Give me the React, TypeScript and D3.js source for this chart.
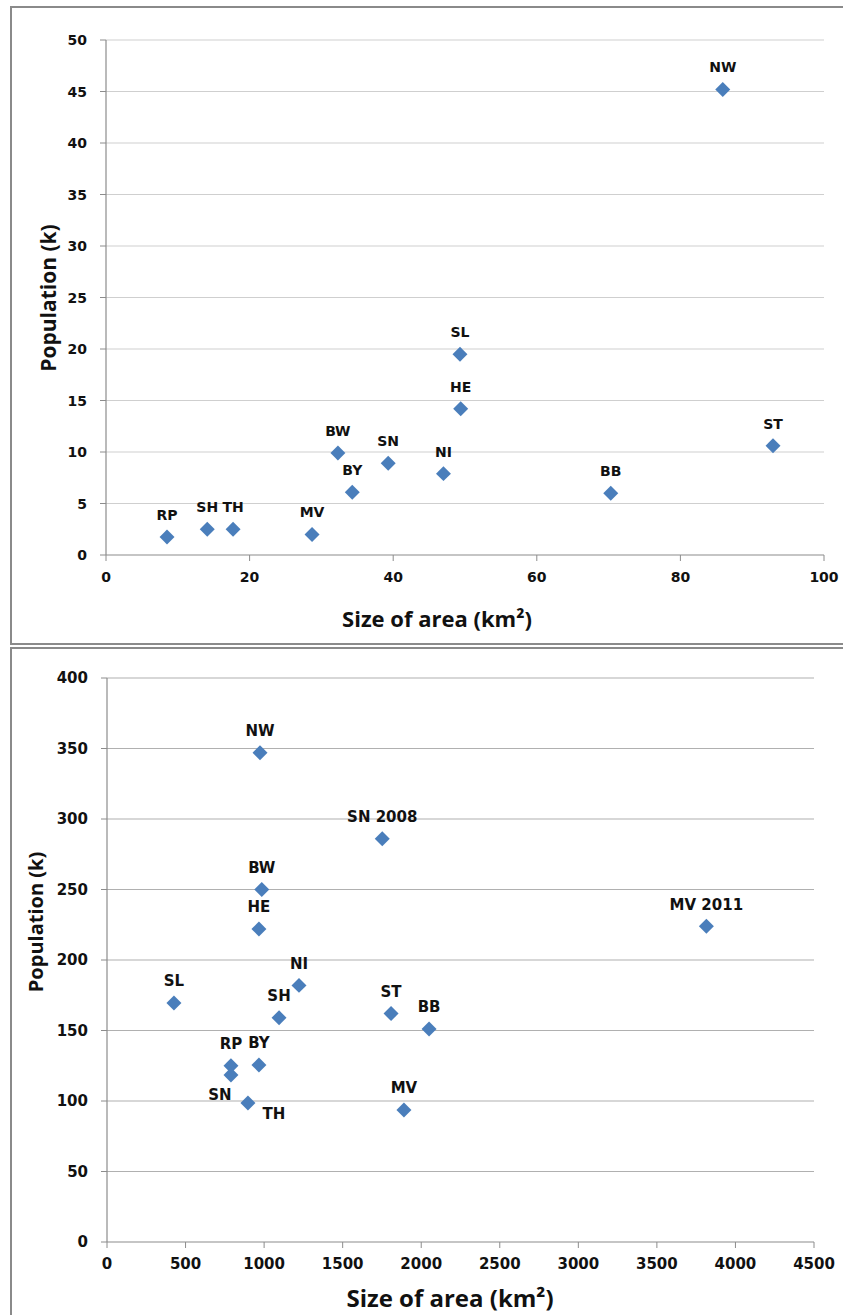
import React from "react";
import * as d3 from "d3";

// ---- Top chart (small areas) ----
const topNames = ["RP", "SH", "TH", "MV", "BW", "BY", "SN", "NI", "SL", "HE", "BB", "ST", "NW"];
const topArea = [8.5, 14.1, 17.7, 28.7, 32.3, 34.3, 39.3, 47.0, 49.3, 49.4, 70.3, 92.9, 85.9];
const topPop = [1.75, 2.5, 2.5, 2.0, 9.9, 6.1, 8.9, 7.9, 19.5, 14.2, 6.0, 10.6, 45.2];
const topXTicks = [0, 20, 40, 60, 80, 100];
const topYTicks = [0, 5, 10, 15, 20, 25, 30, 35, 40, 45, 50];

// ---- Bottom chart (large areas) ----
const botNames = ["NW", "SN 2008", "BW", "HE", "MV 2011", "SL", "NI", "SH", "ST", "BB", "RP", "SN", "BY", "TH", "MV"];
const botArea = [974, 1752, 985, 967, 3815, 426, 1222, 1095, 1808, 2050, 789, 789, 967, 897, 1890];
const botPop = [347, 286, 250, 222, 224, 169.5, 182, 159, 162, 151, 125, 118.5, 125.5, 98.6, 93.6];
const botXTicks = [0, 500, 1000, 1500, 2000, 2500, 3000, 3500, 4000, 4500];
const botYTicks = [0, 50, 100, 150, 200, 250, 300, 350, 400];
const botLabelPos = ["above", "above", "above", "above", "above", "above", "above", "above", "above", "above", "above", "left", "above", "belowRight", "above"];

const TITLE_FONT = "'Open Sans', 'DejaVu Sans', sans-serif";
const TICK_FONT = "'DejaVu Sans', 'Open Sans', sans-serif";
const MARK = "#4a7ebb";

type PanelProps = {
  names: string[];
  xs: number[];
  ys: number[];
  xTicks: number[];
  yTicks: number[];
  xRange: [number, number];
  yRange: [number, number];
  labelPos?: string[];
  tickFont: number;
  pointFont: number;
  xTitleFont: number;
  yTitleFont: number;
  xTitleX: number;
  xTitleY: number;
  yTitleX: number;
  yTitleY: number;
  gridColor: string;
};

function Panel(p: PanelProps) {
  const x = d3.scaleLinear().domain([p.xTicks[0], p.xTicks[p.xTicks.length - 1]]).range(p.xRange);
  const y = d3.scaleLinear().domain([p.yTicks[0], p.yTicks[p.yTicks.length - 1]]).range(p.yRange);
  const diamond = d3.symbol().type(d3.symbolSquare).size(112)();
  const x0 = p.xRange[0];
  const x1 = p.xRange[1];
  const yb = p.yRange[0];
  const yt = p.yRange[1];
  return (
    <g>
      {p.yTicks.filter((t) => t !== 0).map((t) => (
        <line key={"g" + t} x1={x0} x2={x1} y1={y(t)} y2={y(t)} stroke={p.gridColor} strokeWidth={1.2} />
      ))}
      <line x1={x0} x2={x0} y1={yb} y2={yt} stroke="#8c8c8c" strokeWidth={1.2} />
      <line x1={x0} x2={x1} y1={yb} y2={yb} stroke="#8c8c8c" strokeWidth={1.2} />
      {p.yTicks.map((t) => (
        <g key={"yt" + t}>
          <line x1={x0 - 6} x2={x0} y1={y(t)} y2={y(t)} stroke="#8c8c8c" strokeWidth={1} />
          <text x={x0 - 19} y={y(t)} dy="0.36em" textAnchor="end" fontSize={p.tickFont} fontWeight={700} fontFamily={TICK_FONT} fill="#111">
            {t}
          </text>
        </g>
      ))}
      {p.xTicks.map((t) => (
        <g key={"xt" + t}>
          <line x1={x(t)} x2={x(t)} y1={yb} y2={yb + 6} stroke="#8c8c8c" strokeWidth={1} />
          <text x={x(t)} y={yb + 22} dy="0.36em" textAnchor="middle" fontSize={p.tickFont} fontWeight={700} fontFamily={TICK_FONT} fill="#111">
            {t}
          </text>
        </g>
      ))}
      <text x={p.xTitleX} y={p.xTitleY} dy="0.36em" textAnchor="middle" fontSize={p.xTitleFont} fontWeight={700} fontFamily={TITLE_FONT} fill="#111">
        Size of area (km²)
      </text>
      <text
        transform={`translate(${p.yTitleX},${p.yTitleY}) rotate(-90)`}
        dy="0.36em"
        textAnchor="middle"
        fontSize={p.yTitleFont}
        fontWeight={700}
        fontFamily={TITLE_FONT}
        fill="#111"
      >
        Population (k)
      </text>
      {p.names.map((n, i) => {
        const cx = x(p.xs[i]);
        const cy = y(p.ys[i]);
        const pos = p.labelPos ? p.labelPos[i] : "above";
        let lx = cx;
        let ly = cy - 22;
        if (pos === "left") {
          lx = cx - 11;
          ly = cy + 20;
        } else if (pos === "belowRight") {
          lx = cx + 26;
          ly = cy + 11;
        }
        return (
          <g key={"p" + i}>
            <path d={diamond as string} transform={`translate(${cx},${cy}) rotate(45)`} fill={MARK} />
            <text x={lx} y={ly} dy="0.36em" textAnchor="middle" fontSize={p.pointFont} fontWeight={700} fontFamily={TICK_FONT} fill="#111">
              {n}
            </text>
          </g>
        );
      })}
    </g>
  );
}

export default function App() {
  return (
    <div style={{ position: "absolute", left: 0, top: 0 }}>
      <svg width={843} height={1315} style={{ display: "block", background: "#fff" }}>
        <rect x={11} y={7} width={840} height={637} fill="#fff" stroke="#8a8a8a" strokeWidth={2} />
        <rect x={11} y={648} width={840} height={680} fill="#fff" stroke="#8a8a8a" strokeWidth={2} />
        <Panel
          names={topNames}
          xs={topArea}
          ys={topPop}
          xTicks={topXTicks}
          yTicks={topYTicks}
          xRange={[106, 824]}
          yRange={[555, 40]}
          tickFont={14}
          pointFont={14}
          xTitleFont={22}
          yTitleFont={21}
          xTitleX={437}
          xTitleY={619}
          yTitleX={48}
          yTitleY={298}
          gridColor="#cfcfcf"
        />
        <Panel
          names={botNames}
          xs={botArea}
          ys={botPop}
          xTicks={botXTicks}
          yTicks={botYTicks}
          xRange={[107, 814]}
          yRange={[1242, 678]}
          labelPos={botLabelPos}
          tickFont={15}
          pointFont={15}
          xTitleFont={24}
          yTitleFont={20}
          xTitleX={450}
          xTitleY={1298}
          yTitleX={36}
          yTitleY={922}
          gridColor="#b0b0b0"
        />
      </svg>
    </div>
  );
}
